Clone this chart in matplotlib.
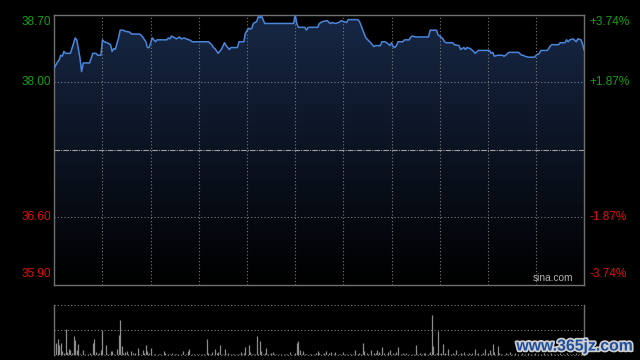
import numpy as np
import matplotlib.pyplot as plt
import matplotlib.patheffects as pe
from matplotlib.colors import LinearSegmentedColormap
from matplotlib.patches import Polygon

# 분시 가격 (장 시작 후 분, 가격)
minutes = [0, 2, 3, 4, 5, 6, 7, 10, 11, 13, 14, 16, 17, 18, 22, 24, 26, 27, 29, 30,
           31, 33, 35, 36, 37, 38, 40, 41, 43, 44, 47, 48, 53, 54, 55, 57, 58, 59, 61, 62,
           63, 64, 70, 71, 72, 73, 75, 76, 78, 79, 81, 82, 84, 86, 96, 98, 99, 100, 102, 104,
           106, 107, 109, 110, 114, 115, 118, 119, 121, 122, 123, 124, 126, 127, 128, 129, 131, 149, 150, 151,
           152, 156, 157, 158, 164, 165, 167, 170, 171, 172, 173, 175, 177, 179, 180, 182, 183, 189, 190, 191,
           193, 194, 197, 199, 200, 203, 204, 206, 207, 209, 210, 211, 212, 213, 214, 217, 218, 221, 222, 223,
           225, 233, 234, 238, 239, 240, 242, 243, 244, 248, 249, 252, 253, 255, 256, 257, 259, 261, 262, 264,
           271, 272, 273, 274, 276, 279, 280, 281, 283, 289, 291, 292, 293, 295, 299, 300, 302, 303, 307, 309,
           310, 314, 315, 318, 319, 320, 321, 323, 325, 326, 328, 329, 330]
prices = [38.15, 38.21, 38.23, 38.28, 38.27, 38.32, 38.30, 38.30, 38.35, 38.46, 38.44, 38.25, 38.11, 38.20, 38.20, 38.30, 38.30, 38.28, 38.28, 38.44,
          38.42, 38.41, 38.39, 38.32, 38.35, 38.34, 38.46, 38.54, 38.54, 38.53, 38.52, 38.50, 38.50, 38.49, 38.47, 38.42, 38.36, 38.36, 38.46, 38.44,
          38.42, 38.44, 38.44, 38.46, 38.45, 38.48, 38.46, 38.45, 38.47, 38.45, 38.46, 38.45, 38.44, 38.42, 38.42, 38.39, 38.36, 38.35, 38.30, 38.34,
          38.41, 38.38, 38.34, 38.36, 38.36, 38.42, 38.42, 38.51, 38.56, 38.55, 38.56, 38.61, 38.63, 38.68, 38.67, 38.69, 38.61, 38.61, 38.70, 38.61,
          38.57, 38.57, 38.54, 38.57, 38.57, 38.61, 38.63, 38.64, 38.62, 38.61, 38.62, 38.61, 38.62, 38.64, 38.63, 38.62, 38.65, 38.65, 38.63, 38.59,
          38.50, 38.46, 38.41, 38.37, 38.38, 38.38, 38.42, 38.42, 38.41, 38.38, 38.41, 38.37, 38.36, 38.38, 38.42, 38.42, 38.44, 38.44, 38.47, 38.48,
          38.47, 38.47, 38.54, 38.54, 38.49, 38.48, 38.45, 38.42, 38.41, 38.41, 38.39, 38.38, 38.34, 38.36, 38.34, 38.36, 38.35, 38.32, 38.30, 38.33,
          38.33, 38.30, 38.31, 38.27, 38.28, 38.28, 38.27, 38.28, 38.31, 38.31, 38.28, 38.28, 38.27, 38.26, 38.26, 38.28, 38.30, 38.33, 38.33, 38.38,
          38.39, 38.39, 38.41, 38.41, 38.44, 38.42, 38.44, 38.45, 38.42, 38.45, 38.44, 38.39, 38.33]

# 거래량 (분, 값)
vol_min = [1, 2, 3, 4, 5, 6, 7, 8, 9, 10, 11, 12, 13, 14, 15, 16, 18, 19, 21, 22,
           24, 25, 26, 27, 28, 29, 30, 32, 33, 34, 35, 36, 37, 39, 40, 41, 42, 43, 44, 45,
           46, 48, 49, 50, 52, 53, 55, 56, 57, 58, 59, 60, 62, 63, 65, 66, 68, 69, 71, 72,
           73, 75, 76, 77, 79, 80, 82, 83, 84, 86, 87, 89, 90, 92, 93, 95, 96, 97, 98, 100,
           101, 102, 103, 105, 106, 107, 108, 110, 111, 112, 114, 115, 116, 117, 118, 119, 121, 122, 123, 124,
           125, 126, 127, 128, 129, 130, 131, 132, 133, 134, 135, 136, 137, 138, 140, 141, 143, 144, 145, 147,
           149, 150, 151, 152, 153, 154, 155, 156, 157, 159, 160, 162, 163, 164, 165, 167, 168, 169, 171, 172,
           174, 175, 177, 178, 180, 181, 182, 184, 185, 186, 187, 189, 190, 191, 192, 193, 195, 196, 197, 199,
           200, 201, 202, 203, 204, 205, 207, 208, 209, 211, 212, 213, 214, 216, 217, 218, 219, 221, 223, 224,
           225, 226, 228, 229, 230, 231, 233, 234, 235, 236, 237, 238, 239, 240, 241, 242, 243, 244, 245, 247,
           248, 249, 250, 252, 253, 254, 255, 257, 258, 259, 260, 262, 263, 264, 266, 267, 268, 270, 271, 272,
           273, 274, 276, 277, 278, 279, 281, 282, 284, 285, 287, 289, 291, 293, 295, 297, 299, 301, 303, 305,
           307, 309, 311, 313, 315, 317, 319, 321, 323, 325, 327, 329]
vol_val = [25, 32, 20, 25, 8, 5, 53, 7, 13, 10, 5, 38, 30, 10, 23, 3, 10, 3, 3, 5,
           25, 32, 7, 3, 5, 10, 51, 20, 3, 3, 9, 9, 3, 12, 40, 70, 18, 5, 7, 9,
           3, 8, 5, 5, 15, 3, 10, 5, 20, 8, 5, 15, 3, 3, 3, 3, 9, 5, 3, 3,
           5, 3, 3, 2, 2, 9, 3, 9, 12, 3, 2, 3, 3, 2, 3, 32, 5, 3, 7, 12,
           5, 7, 20, 3, 12, 3, 5, 3, 2, 3, 3, 2, 7, 3, 5, 17, 20, 7, 3, 3,
           3, 38, 3, 29, 9, 3, 5, 15, 3, 3, 5, 7, 3, 2, 3, 3, 3, 3, 3, 7,
           3, 5, 25, 28, 11, 3, 8, 3, 3, 3, 3, 3, 5, 8, 5, 3, 5, 8, 5, 7,
           3, 7, 3, 3, 7, 3, 3, 3, 3, 3, 10, 3, 5, 3, 25, 8, 5, 3, 10, 5,
           5, 10, 7, 3, 17, 5, 3, 7, 11, 5, 3, 7, 17, 3, 5, 3, 5, 3, 3, 2,
           20, 3, 5, 3, 5, 5, 3, 7, 80, 18, 3, 5, 49, 3, 5, 22, 5, 3, 13, 3,
           5, 3, 11, 3, 5, 3, 7, 3, 5, 3, 5, 12, 3, 5, 3, 5, 13, 5, 10, 3,
           22, 7, 19, 5, 3, 3, 5, 3, 7, 3, 5, 3, 4, 3, 5, 3, 4, 3, 3, 5,
           3, 4, 3, 3, 4, 3, 5, 3, 3, 4, 3, 6]

prev_close = 37.30
y_ticks = [38.70, 38.00, 36.60, 35.90]
y_labels = ['38.70', '38.00', '36.60', '35.90']
pct_labels = ['+3.74%', '+1.87%', '-1.87%', '-3.74%']

GRID = '#7c7c7c'
EDGE = '#707070'

fig = plt.figure(figsize=(6.4, 3.6), dpi=100, facecolor='black')
ax = fig.add_axes([54.3/640, 1-284.5/360, 530/640, 269.7/360], facecolor='black')
ax.set_xlim(0, 330)
ax.set_ylim(y_ticks[-1], y_ticks[0])

# 선 아래 그라데이션
cmap = LinearSegmentedColormap.from_list('fill', ['#000000', '#172745'])
grad = np.linspace(0, 1, 256).reshape(-1, 1)
im = ax.imshow(grad, cmap=cmap, extent=[0, 330, y_ticks[-1], y_ticks[0]],
               origin='lower', aspect='auto', zorder=1)
verts = [(minutes[0], y_ticks[-1])] + list(zip(minutes, prices)) + [(minutes[-1], y_ticks[-1])]
poly = Polygon(verts, closed=True, facecolor='none', edgecolor='none')
ax.add_patch(poly)
im.set_clip_path(poly)

for m in range(30, 330, 30):
    ax.axvline(m, color=GRID, lw=0.8, ls=(0, (1, 2)), zorder=2)
for v in y_ticks[1:3]:
    ax.axhline(v, color=GRID, lw=0.8, ls=(0, (1, 2)), zorder=2)
ax.axhline(prev_close, color='#a0a0a0', lw=0.8, ls=(0, (5, 1, 1, 1)), zorder=2)

ax.plot(minutes, prices, color='#4a86dc', lw=1.1, zorder=5)

ax.set_xticks([])
ax.set_yticks([])
for s in ax.spines.values():
    s.set_color(EDGE)
    s.set_linewidth(1.0)

vas = ['top', 'center', 'center', 'bottom']
offs = [-1, 0, 0, 3]
for v, lab, pct, va, o in zip(y_ticks, y_labels, pct_labels, vas, offs):
    col = '#14a014' if v > prev_close else '#e01010'
    ax.annotate(lab, xy=(0, v), xycoords=('axes fraction', 'data'), xytext=(-2.5, o),
                textcoords='offset points', ha='right', va=va, color=col,
                fontsize=8.5, family='Liberation Sans')
    ax.annotate(pct, xy=(1, v), xycoords=('axes fraction', 'data'), xytext=(4, o),
                textcoords='offset points', ha='left', va=va, color=col,
                fontsize=8.5, family='Liberation Sans')

ax.text(0.98, 0.005, 'sina.com', transform=ax.transAxes, ha='right', va='bottom',
        color='#b4b4b4', fontsize=7.3, family='Liberation Sans', zorder=6)

# 거래량
ax2 = fig.add_axes([54.3/640, 1-355/360, 530/640, 50/360], facecolor='black')
ax2.set_xlim(0, 330)
ax2.set_ylim(0, 100)
ax2.vlines(vol_min, 0, vol_val, color='#8c8c8c', lw=0.9)
for v in [0, 50, 100]:
    ax2.axhline(v, color=GRID, lw=0.8, ls=(0, (1, 2)), clip_on=False)
ax2.set_xticks([])
ax2.set_yticks([])
for k in ['top', 'bottom']:
    ax2.spines[k].set_visible(False)
for k in ['left', 'right']:
    ax2.spines[k].set_color(EDGE)
    ax2.spines[k].set_linewidth(1.0)

fig.text(575/640, 1-346/360, 'www.365jz.com', ha='center', va='center',
         color='#1e4f9e', fontsize=11.4, fontweight='bold', family='Liberation Sans',
         path_effects=[pe.withStroke(linewidth=2.5, foreground='#cfcfcf')])

fig.savefig('out.png', dpi=100, facecolor='black')
